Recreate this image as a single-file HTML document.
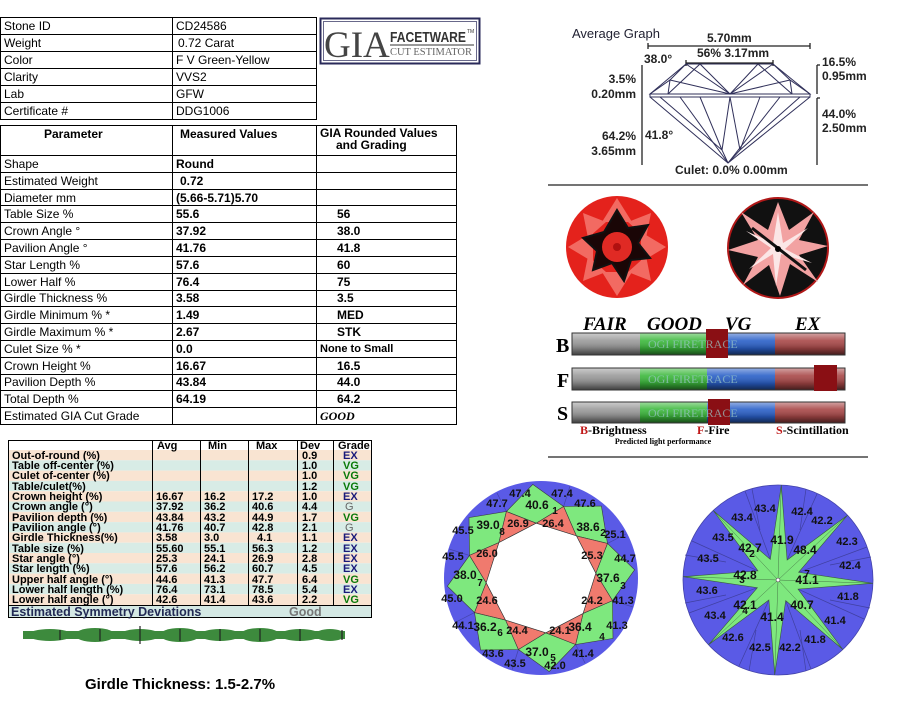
<!DOCTYPE html>
<html><head><meta charset="utf-8"><style>
html,body{margin:0;padding:0;background:#fff;}
svg{display:block;font-family:"Liberation Sans",Arial,sans-serif;}
</style></head><body>
<svg width="911" height="704" viewBox="0 0 911 704" xmlns="http://www.w3.org/2000/svg">
<rect width="911" height="704" fill="#fff"/>

<!-- Top-left info table -->
<g stroke="#000" stroke-width="1" fill="none">
<rect x="0.5" y="17.5" width="316" height="102"/>
<line x1="172.5" y1="17" x2="172.5" y2="119"/>
<line x1="0" y1="34.5" x2="316" y2="34.5"/>
<line x1="0" y1="51.5" x2="316" y2="51.5"/>
<line x1="0" y1="68.5" x2="316" y2="68.5"/>
<line x1="0" y1="85.5" x2="316" y2="85.5"/>
<line x1="0" y1="102.5" x2="316" y2="102.5"/>
</g>
<g font-size="12" fill="#000">
<text x="4" y="30">Stone ID</text><text x="176" y="30">CD24586</text>
<text x="4" y="47">Weight</text><text x="178" y="47">0.72 Carat</text>
<text x="4" y="64">Color</text><text x="176" y="64">F V Green-Yellow</text>
<text x="4" y="81">Clarity</text><text x="176" y="81">VVS2</text>
<text x="4" y="98">Lab</text><text x="176" y="98">GFW</text>
<text x="4" y="115">Certificate #</text><text x="176" y="115">DDG1006</text>
</g>

<!-- Logo -->
<rect x="320.5" y="18.5" width="159" height="45" fill="#fff" stroke="#2a2a5a" stroke-width="2"/>
<rect x="323.5" y="21.5" width="153" height="39" fill="none" stroke="#2a2a5a" stroke-width="0.7"/>
<text x="324" y="57" font-family="Liberation Serif,serif" font-size="37" fill="#444">GIA</text>
<text x="390" y="42" font-size="15" font-weight="bold" fill="#333" textLength="76" lengthAdjust="spacingAndGlyphs">FACETWARE</text>
<text x="467" y="33" font-size="5" fill="#333">TM</text>
<line x1="390" y1="45" x2="474" y2="45" stroke="#333" stroke-width="1"/>
<text x="390" y="55" font-family="Liberation Serif,serif" font-size="10" fill="#666" textLength="82" lengthAdjust="spacingAndGlyphs">CUT ESTIMATOR</text>

<!-- Parameter table -->
<g stroke="#000" stroke-width="1" fill="none">
<rect x="0.5" y="125.5" width="456" height="299"/>
<line x1="0" y1="155.5" x2="456" y2="155.5"/>
<line x1="172.5" y1="125" x2="172.5" y2="424"/>
<line x1="316.5" y1="125" x2="316.5" y2="424"/>
<line x1="0" y1="172.5" x2="456" y2="172.5"/>
<line x1="0" y1="189.5" x2="456" y2="189.5"/>
<line x1="0" y1="205.5" x2="456" y2="205.5"/>
<line x1="0" y1="222.5" x2="456" y2="222.5"/>
<line x1="0" y1="239.5" x2="456" y2="239.5"/>
<line x1="0" y1="256.5" x2="456" y2="256.5"/>
<line x1="0" y1="273.5" x2="456" y2="273.5"/>
<line x1="0" y1="290.5" x2="456" y2="290.5"/>
<line x1="0" y1="306.5" x2="456" y2="306.5"/>
<line x1="0" y1="323.5" x2="456" y2="323.5"/>
<line x1="0" y1="340.5" x2="456" y2="340.5"/>
<line x1="0" y1="357.5" x2="456" y2="357.5"/>
<line x1="0" y1="374.5" x2="456" y2="374.5"/>
<line x1="0" y1="390.5" x2="456" y2="390.5"/>
<line x1="0" y1="407.5" x2="456" y2="407.5"/>
</g>
<g font-size="12" font-weight="bold" fill="#000">
<text x="44" y="138">Parameter</text>
<text x="180" y="138">Measured Values</text>
<text x="320" y="137">GIA Rounded Values</text>
<text x="336" y="149">and Grading</text>
</g>
<g font-size="12" fill="#000">
<text x="4" y="168">Shape</text>
<text x="4" y="185">Estimated Weight</text>
<text x="4" y="202">Diameter  mm</text>
<text x="4" y="218">Table Size  %</text>
<text x="4" y="235">Crown Angle  °</text>
<text x="4" y="252">Pavilion Angle  °</text>
<text x="4" y="269">Star Length  %</text>
<text x="4" y="286">Lower Half  %</text>
<text x="4" y="302">Girdle Thickness  %</text>
<text x="4" y="319">Girdle Minimum  % *</text>
<text x="4" y="336">Girdle Maximum  % *</text>
<text x="4" y="353">Culet Size  % *</text>
<text x="4" y="370">Crown Height  %</text>
<text x="4" y="386">Pavilion Depth  %</text>
<text x="4" y="403">Total Depth  %</text>
<text x="4" y="420">Estimated GIA Cut Grade</text>
</g>
<g font-size="12" font-weight="bold" fill="#000">
<text x="176" y="168">Round</text>
<text x="180" y="185">0.72</text>
<text x="176" y="202">(5.66-5.71)5.70</text>
<text x="176" y="218">55.6</text>
<text x="176" y="235">37.92</text>
<text x="176" y="252">41.76</text>
<text x="176" y="269">57.6</text>
<text x="176" y="286">76.4</text>
<text x="176" y="302">3.58</text>
<text x="176" y="319">1.49</text>
<text x="176" y="336">2.67</text>
<text x="176" y="353">0.0</text>
<text x="176" y="370">16.67</text>
<text x="176" y="386">43.84</text>
<text x="176" y="403">64.19</text>
<text x="337" y="218">56</text>
<text x="337" y="235">38.0</text>
<text x="337" y="252">41.8</text>
<text x="337" y="269">60</text>
<text x="337" y="286">75</text>
<text x="337" y="302">3.5</text>
<text x="337" y="319">MED</text>
<text x="337" y="336">STK</text>
<text x="320" y="352" font-size="11">None to Small</text>
<text x="337" y="370">16.5</text>
<text x="337" y="386">44.0</text>
<text x="337" y="403">64.2</text>
<text x="320" y="420" font-family="Liberation Serif,serif" font-style="italic">GOOD</text>
</g>

<!-- Symmetry table -->
<g>
<rect x="8" y="440" width="364" height="10" fill="#fff"/>
<rect x="8" y="450" width="364" height="10.3" fill="#f9e4d2"/>
<rect x="8" y="460.3" width="364" height="10.3" fill="#d8ece6"/>
<rect x="8" y="470.6" width="364" height="10.3" fill="#f9e4d2"/>
<rect x="8" y="480.9" width="364" height="10.3" fill="#d8ece6"/>
<rect x="8" y="491.2" width="364" height="10.3" fill="#f9e4d2"/>
<rect x="8" y="501.5" width="364" height="10.3" fill="#d8ece6"/>
<rect x="8" y="511.8" width="364" height="10.3" fill="#f9e4d2"/>
<rect x="8" y="522.1" width="364" height="10.3" fill="#d8ece6"/>
<rect x="8" y="532.4" width="364" height="10.3" fill="#f9e4d2"/>
<rect x="8" y="542.7" width="364" height="10.3" fill="#d8ece6"/>
<rect x="8" y="553" width="364" height="10.3" fill="#f9e4d2"/>
<rect x="8" y="563.3" width="364" height="10.3" fill="#d8ece6"/>
<rect x="8" y="573.6" width="364" height="10.3" fill="#f9e4d2"/>
<rect x="8" y="583.9" width="364" height="10.3" fill="#d8ece6"/>
<rect x="8" y="594.2" width="364" height="10.8" fill="#f9e4d2"/>
<rect x="8" y="605" width="364" height="13" fill="#d4e8e4"/>
</g>
<g stroke="#000" stroke-width="1" fill="none">
<rect x="8.5" y="440.5" width="363" height="177"/>
<line x1="152.5" y1="440" x2="152.5" y2="605"/>
<line x1="200.5" y1="440" x2="200.5" y2="605"/>
<line x1="248.5" y1="440" x2="248.5" y2="605"/>
<line x1="297.5" y1="440" x2="297.5" y2="605"/>
<line x1="333.5" y1="440" x2="333.5" y2="605"/>
<line x1="8" y1="605.5" x2="372" y2="605.5"/>
</g>
<g font-size="11" font-weight="bold" fill="#000">
<text x="157" y="449">Avg</text><text x="208" y="449">Min</text><text x="256" y="449">Max</text><text x="300" y="449">Dev</text><text x="338" y="449">Grade</text>
<text x="12" y="459">Out-of-round (%)</text>
<text x="12" y="469">Table off-center (%)</text>
<text x="12" y="479">Culet of-center (%)</text>
<text x="12" y="490">Table/culet(%)</text>
<text x="12" y="500">Crown height (%)</text>
<text x="12" y="510">Crown angle (°)</text>
<text x="12" y="521">Pavilion depth (%)</text>
<text x="12" y="531">Pavilion angle (°)</text>
<text x="12" y="541">Girdle Thickness(%)</text>
<text x="12" y="552">Table size  (%)</text>
<text x="12" y="562">Star angle (°)</text>
<text x="12" y="572">Star length (%)</text>
<text x="12" y="583">Upper half angle (°)</text>
<text x="12" y="593">Lower half length (%)</text>
<text x="12" y="603">Lower half angle (°)</text>
</g>
<g font-size="11" font-weight="bold" fill="#000">
<text x="156" y="500">16.67</text><text x="204" y="500">16.2</text><text x="252" y="500">17.2</text>
<text x="156" y="510">37.92</text><text x="204" y="510">36.2</text><text x="252" y="510">40.6</text>
<text x="156" y="521">43.84</text><text x="204" y="521">43.2</text><text x="252" y="521">44.9</text>
<text x="156" y="531">41.76</text><text x="204" y="531">40.7</text><text x="252" y="531">42.8</text>
<text x="156" y="541">3.58</text><text x="204" y="541">3.0</text><text x="257" y="541">4.1</text>
<text x="156" y="552">55.60</text><text x="204" y="552">55.1</text><text x="252" y="552">56.3</text>
<text x="156" y="562">25.3</text><text x="204" y="562">24.1</text><text x="252" y="562">26.9</text>
<text x="156" y="572">57.6</text><text x="204" y="572">56.2</text><text x="252" y="572">60.7</text>
<text x="156" y="583">44.6</text><text x="204" y="583">41.3</text><text x="252" y="583">47.7</text>
<text x="156" y="593">76.4</text><text x="204" y="593">73.1</text><text x="252" y="593">78.5</text>
<text x="156" y="603">42.6</text><text x="204" y="603">41.4</text><text x="252" y="603">43.6</text>
<text x="302" y="459">0.9</text><text x="302" y="469">1.0</text><text x="302" y="479">1.0</text><text x="302" y="490">1.2</text>
<text x="302" y="500">1.0</text><text x="302" y="510">4.4</text><text x="302" y="521">1.7</text><text x="302" y="531">2.1</text>
<text x="302" y="541">1.1</text><text x="302" y="552">1.2</text><text x="302" y="562">2.8</text><text x="302" y="572">4.5</text>
<text x="302" y="583">6.4</text><text x="302" y="593">5.4</text><text x="302" y="603">2.2</text>
</g>
<g font-size="11" font-weight="bold">
<text x="343" y="459" fill="#1a1a7a">EX</text>
<text x="343" y="469" fill="#0a7a0a">VG</text>
<text x="343" y="479" fill="#0a7a0a">VG</text>
<text x="343" y="490" fill="#0a7a0a">VG</text>
<text x="343" y="500" fill="#1a1a7a">EX</text>
<text x="345" y="510" fill="#666" font-weight="normal">G</text>
<text x="343" y="521" fill="#0a7a0a">VG</text>
<text x="345" y="531" fill="#666" font-weight="normal">G</text>
<text x="343" y="541" fill="#1a1a7a">EX</text>
<text x="343" y="552" fill="#1a1a7a">EX</text>
<text x="343" y="562" fill="#1a1a7a">EX</text>
<text x="343" y="572" fill="#1a1a7a">EX</text>
<text x="343" y="583" fill="#0a7a0a">VG</text>
<text x="343" y="593" fill="#1a1a7a">EX</text>
<text x="343" y="603" fill="#0a7a0a">VG</text>
</g>
<text x="11" y="616" font-size="12.5" font-weight="bold" fill="#222a55">Estimated Symmetry Deviations</text>
<text x="289" y="616" font-size="12.5" font-weight="bold" fill="#777">Good</text>

<!-- green wave strip -->
<g fill="#3d8a3d">
<rect x="23" y="631" width="322" height="8"/>
<ellipse cx="50" cy="635" rx="22" ry="6"/><ellipse cx="95" cy="635" rx="20" ry="7"/>
<ellipse cx="140" cy="635" rx="20" ry="6"/><ellipse cx="180" cy="635" rx="20" ry="7"/>
<ellipse cx="220" cy="635" rx="20" ry="6"/><ellipse cx="260" cy="635" rx="20" ry="7"/>
<ellipse cx="300" cy="635" rx="20" ry="6"/><ellipse cx="330" cy="635" rx="15" ry="6"/>
</g>
<g stroke="#222" stroke-width="1.2">
<line x1="60" y1="630" x2="60" y2="640"/><line x1="100" y1="629" x2="100" y2="641"/>
<line x1="140" y1="626" x2="140" y2="644"/><line x1="180" y1="629" x2="180" y2="641"/>
<line x1="220" y1="629" x2="220" y2="641"/><line x1="260" y1="629" x2="260" y2="641"/>
<line x1="300" y1="629" x2="300" y2="641"/><line x1="342" y1="630" x2="342" y2="640"/>
</g>
<text x="85" y="689" font-size="15" font-weight="bold" fill="#000">Girdle Thickness: 1.5-2.7%</text>

<!-- Average graph -->
<text x="572" y="38" font-size="13" fill="#223">Average Graph</text>
<g stroke="#222" stroke-width="1.3" fill="none">
<line x1="648" y1="46" x2="810" y2="46"/><line x1="648" y1="43" x2="648" y2="49"/><line x1="810" y1="43" x2="810" y2="49"/>
<line x1="686" y1="63" x2="773" y2="63"/><line x1="686" y1="60" x2="686" y2="66"/><line x1="773" y1="60" x2="773" y2="66"/>
<line x1="642" y1="65" x2="642" y2="165"/>
<line x1="817" y1="65" x2="817" y2="94"/><line x1="817" y1="65" x2="820" y2="65"/>
<line x1="817" y1="98" x2="817" y2="165"/><line x1="817" y1="98" x2="820" y2="98"/>
</g>
<g stroke="#30305a" stroke-width="1" fill="none">
<polygon points="650,94 686,64 773,64 810,94"/>
<rect x="650" y="94" width="160" height="3"/>
<polyline points="650,94 670,80 668,94"/>
<polyline points="810,94 790,80 792,94"/>
<polyline points="670,80 686,64"/><polyline points="790,80 773,64"/>
<polyline points="668,94 700,64 730,94 758,64 792,94"/>
<polyline points="686,64 730,94 773,64"/>
<polyline points="670,80 730,94 790,80"/>
<polyline points="650,97 728,163 810,97"/>
<polyline points="660,97 722,150 728,163"/>
<polyline points="800,97 740,150 728,163"/>
<polyline points="700,97 722,150"/><polyline points="760,97 740,150"/>
<polyline points="730,97 722,150"/><polyline points="730,97 740,150"/>
<polyline points="680,97 728,163"/><polyline points="780,97 728,163"/>
</g>
<g font-size="12" font-weight="bold" fill="#222">
<text x="707" y="42">5.70mm</text>
<text x="697" y="57">56% 3.17mm</text>
<text x="644" y="63">38.0°</text>
<text x="636" y="83" text-anchor="end">3.5%</text>
<text x="636" y="98" text-anchor="end">0.20mm</text>
<text x="636" y="140" text-anchor="end">64.2%</text>
<text x="636" y="155" text-anchor="end">3.65mm</text>
<text x="645" y="139">41.8°</text>
<text x="822" y="66">16.5%</text>
<text x="822" y="80">0.95mm</text>
<text x="822" y="118">44.0%</text>
<text x="822" y="132">2.50mm</text>
<text x="675" y="174">Culet: 0.0% 0.00mm</text>
</g>
<line x1="548" y1="185" x2="868" y2="185" stroke="#222" stroke-width="1.3"/>

<!-- Red diamond 1 -->
<circle cx="617" cy="247" r="51" fill="#e4221c"/>
<g fill="#f26a62">
<polygon points="617,198 632,222 602,222"/><polygon points="666,247 641,262 641,232"/>
<polygon points="617,296 602,272 632,272"/><polygon points="568,247 593,232 593,262"/>
<polygon points="651,213 646,238 628,222"/><polygon points="583,281 588,256 606,272"/>
<polygon points="651,281 628,272 646,256"/><polygon points="583,213 606,222 588,238"/>
</g>
<polygon points="617,210 628,228 648,225 638,243 650,258 631,260 624,281 612,263 593,270 597,251 583,238 604,232" fill="#1a0606" stroke="#111" stroke-width="2"/>
<circle cx="617" cy="247" r="15" fill="#e02a24"/>
<circle cx="617" cy="247" r="4" fill="#b01010"/>

<!-- Red diamond 2 -->
<circle cx="778" cy="248" r="50" fill="#111" stroke="#b01818" stroke-width="2"/>
<polygon points="778,202 789,230 814,212 799,240 828,246 799,255 818,282 790,264 780,296 769,265 743,285 758,257 728,250 758,240 741,212 768,230" fill="#f2a2a2"/>
<polygon points="778,212 783,243 808,228 785,249 812,263 781,254 776,286 773,254 749,269 771,248 746,231 773,243" fill="#fbe6e6"/>
<line x1="752" y1="228" x2="806" y2="270" stroke="#111" stroke-width="3"/>
<circle cx="778" cy="249" r="3" fill="#000"/>

<!-- Light performance bars -->
<g font-family="Liberation Serif,serif" font-weight="bold" font-style="italic" font-size="19" fill="#000">
<text x="583" y="330">FAIR</text><text x="647" y="330">GOOD</text><text x="725" y="330">VG</text><text x="795" y="330">EX</text>
</g>
<g font-family="Liberation Serif,serif" font-weight="bold" font-size="20" fill="#000">
<text x="556" y="352">B</text><text x="557" y="387">F</text><text x="557" y="420">S</text>
</g>
<defs>
<linearGradient id="sh" x1="0" y1="0" x2="0" y2="1">
<stop offset="0" stop-color="#fff" stop-opacity="0.5"/><stop offset="0.35" stop-color="#fff" stop-opacity="0.1"/><stop offset="0.7" stop-color="#000" stop-opacity="0.2"/><stop offset="1" stop-color="#000" stop-opacity="0.6"/>
</linearGradient>
</defs>
<g>
<rect x="572" y="333" width="68" height="22" fill="#9a9a9a"/><rect x="640" y="333" width="67" height="22" fill="#3cb83c"/><rect x="707" y="333" width="68" height="22" fill="#2a60c8"/><rect x="775" y="333" width="70" height="22" fill="#a84848"/>
<rect x="572" y="333" width="273" height="22" fill="url(#sh)" stroke="#333" stroke-width="1"/>
<rect x="706" y="329" width="22" height="29" fill="#8a0f14"/>
<rect x="572" y="368" width="68" height="22" fill="#9a9a9a"/><rect x="640" y="368" width="67" height="22" fill="#3cb83c"/><rect x="707" y="368" width="68" height="22" fill="#2a60c8"/><rect x="775" y="368" width="70" height="22" fill="#a84848"/>
<rect x="572" y="368" width="273" height="22" fill="url(#sh)" stroke="#333" stroke-width="1"/>
<rect x="814" y="365" width="23" height="26" fill="#8a0f14"/>
<rect x="572" y="402" width="68" height="21" fill="#9a9a9a"/><rect x="640" y="402" width="67" height="21" fill="#3cb83c"/><rect x="707" y="402" width="68" height="21" fill="#2a60c8"/><rect x="775" y="402" width="70" height="21" fill="#a84848"/>
<rect x="572" y="402" width="273" height="21" fill="url(#sh)" stroke="#333" stroke-width="1"/>
<rect x="708" y="399" width="22" height="26" fill="#8a0f14"/>
</g>
<g font-family="Liberation Serif,serif" font-size="12" fill="#9ac8c8" opacity="0.7">
<text x="648" y="348">OGI FIRETRACE</text><text x="648" y="383">OGI FIRETRACE</text><text x="648" y="417">OGI FIRETRACE</text>
</g>
<g font-family="Liberation Serif,serif" font-weight="bold" font-size="12" fill="#000">
<text x="580" y="434"><tspan fill="#c01818">B</tspan>-Brightness</text>
<text x="697" y="434"><tspan fill="#c01818">F</tspan>-Fire</text>
<text x="776" y="434"><tspan fill="#c01818">S</tspan>-Scintillation</text>
<text x="663" y="444" font-size="8" text-anchor="middle">Predicted light performance</text>
</g>
<line x1="548" y1="457" x2="868" y2="457" stroke="#222" stroke-width="1.3"/>

<!-- Crown diagram -->
<circle cx="541" cy="578" r="97" fill="#5a5ae6"/>
<g stroke="#4444aa" stroke-width="0.7">
<line x1="563.6" y1="506.5" x2="570" y2="486"/><line x1="607.5" y1="543.4" x2="626" y2="534"/>
<line x1="612.5" y1="600.6" x2="633" y2="607"/><line x1="575.6" y1="644.5" x2="585" y2="663"/>
<line x1="518.4" y1="649.5" x2="512" y2="670"/><line x1="474.5" y1="612.6" x2="456" y2="622"/>
<line x1="469.5" y1="555.4" x2="449" y2="549"/><line x1="506.4" y1="511.5" x2="497" y2="493"/>
</g>
<g fill="#7ee87e" stroke="#3a3a3a" stroke-width="0.6">
<polygon points="536.2,523.2 563.6,506.5 532.8,484.4 506.4,511.5"/>
<polygon points="576.4,535.9 607.5,543.4 601.4,506.0 563.6,506.5"/>
<polygon points="595.8,573.2 612.5,600.6 634.6,569.8 607.5,543.4"/>
<polygon points="583.1,613.4 575.6,644.5 613.0,638.4 612.5,600.6"/>
<polygon points="545.8,632.8 518.4,649.5 549.2,671.6 575.6,644.5"/>
<polygon points="505.6,620.1 474.5,612.6 480.6,650.0 518.4,649.5"/>
<polygon points="486.2,582.8 469.5,555.4 447.4,586.2 474.5,612.6"/>
<polygon points="498.9,542.6 506.4,511.5 469.0,517.6 469.5,555.4"/>
</g>
<g fill="#f07a6e" stroke="#3a3a3a" stroke-width="0.6">
<polygon points="536.2,523.2 563.6,506.5 576.4,535.9"/>
<polygon points="576.4,535.9 607.5,543.4 595.8,573.2"/>
<polygon points="595.8,573.2 612.5,600.6 583.1,613.4"/>
<polygon points="583.1,613.4 575.6,644.5 545.8,632.8"/>
<polygon points="545.8,632.8 518.4,649.5 505.6,620.1"/>
<polygon points="505.6,620.1 474.5,612.6 486.2,582.8"/>
<polygon points="486.2,582.8 469.5,555.4 498.9,542.6"/>
<polygon points="498.9,542.6 506.4,511.5 536.2,523.2"/>
</g>
<polygon points="536.2,523.2 576.4,535.9 595.8,573.2 583.1,613.4 545.8,632.8 505.6,620.1 486.2,582.8 498.9,542.6" fill="#fff" stroke="#333" stroke-width="0.6"/>
<g font-size="11" font-weight="bold" fill="#111" text-anchor="middle">
<text x="520" y="497">47.4</text><text x="562" y="497">47.4</text><text x="497" y="507">47.7</text>
<text x="537" y="509" font-size="12">40.6</text><text x="555" y="514" font-size="10">1</text>
<text x="585" y="507">47.6</text>
<text x="488" y="529" font-size="12">39.0</text><text x="502" y="535" font-size="10">8</text>
<text x="518" y="527">26.9</text><text x="553" y="527">26.4</text>
<text x="588" y="531" font-size="12">38.6</text><text x="603" y="536" font-size="10">2</text>
<text x="615" y="538">25.1</text>
<text x="463" y="534">45.5</text><text x="453" y="560">45.5</text>
<text x="487" y="557">26.0</text><text x="592" y="559">25.3</text><text x="625" y="562">44.7</text>
<text x="465" y="579" font-size="12">38.0</text><text x="480" y="586" font-size="10">7</text>
<text x="608" y="582" font-size="12">37.6</text><text x="623" y="589" font-size="10">3</text>
<text x="452" y="602">45.0</text><text x="487" y="604">24.6</text><text x="592" y="604">24.2</text><text x="623" y="604">41.3</text>
<text x="463" y="629">44.1</text>
<text x="485" y="631" font-size="12">36.2</text><text x="500" y="636" font-size="10">6</text>
<text x="517" y="634">24.4</text><text x="560" y="634">24.1</text>
<text x="580" y="631" font-size="12">36.4</text><text x="602" y="640" font-size="10">4</text>
<text x="617" y="629">41.3</text>
<text x="493" y="657">43.6</text>
<text x="537" y="656" font-size="12">37.0</text><text x="553" y="661" font-size="10">5</text>
<text x="583" y="657">41.4</text><text x="515" y="667">43.5</text><text x="555" y="669">42.0</text>
</g>

<!-- Pavilion diagram -->
<circle cx="778" cy="580" r="95" fill="#5a5ae6" stroke="#4444aa" stroke-width="0.8"/>
<g stroke="#4040a0" stroke-width="0.7">
<line x1="787.1" y1="560.0" x2="817" y2="494"/><line x1="798.6" y1="572.3" x2="867" y2="547"/>
<line x1="798.0" y1="589.1" x2="864" y2="619"/><line x1="785.7" y1="600.6" x2="811" y2="669"/>
<line x1="768.9" y1="600.0" x2="739" y2="666"/><line x1="757.4" y1="587.7" x2="689" y2="613"/>
<line x1="758.0" y1="570.9" x2="692" y2="541"/><line x1="770.3" y1="559.4" x2="745" y2="491"/>
<line x1="760" y1="530" x2="752" y2="489"/><line x1="800" y1="530" x2="806" y2="489"/>
<line x1="830" y1="565" x2="871" y2="557"/><line x1="830" y1="600" x2="870" y2="608"/>
<line x1="756" y1="630" x2="749" y2="671"/><line x1="800" y1="630" x2="806" y2="671"/>
<line x1="726" y1="595" x2="685" y2="603"/><line x1="726" y1="562" x2="685" y2="555"/>
</g>
<polygon points="781.3,485.1 787.1,560.0 847.5,515.2 798.6,572.3 872.9,583.3 798.0,589.1 842.8,649.5 785.7,600.6 774.7,674.9 768.9,600.0 708.5,644.8 757.4,587.7 683.1,576.7 758.0,570.9 713.2,510.5 770.3,559.4" fill="#7ee87e" stroke="#3a5a3a" stroke-width="0.6"/>
<g stroke="#3a5a3a" stroke-width="0.4">
<line x1="778" y1="580" x2="781.3" y2="485.1"/><line x1="778" y1="580" x2="847.5" y2="515.2"/>
<line x1="778" y1="580" x2="872.9" y2="583.3"/><line x1="778" y1="580" x2="842.8" y2="649.5"/>
<line x1="778" y1="580" x2="774.7" y2="674.9"/><line x1="778" y1="580" x2="708.5" y2="644.8"/>
<line x1="778" y1="580" x2="683.1" y2="576.7"/><line x1="778" y1="580" x2="713.2" y2="510.5"/>
</g>
<circle cx="778" cy="580" r="2" fill="#fff" stroke="#333" stroke-width="0.5"/>
<g font-size="11" font-weight="bold" fill="#111" text-anchor="middle">
<text x="765" y="512">43.4</text><text x="802" y="515">42.4</text><text x="742" y="521">43.4</text><text x="822" y="524">42.2</text>
<text x="723" y="541">43.5</text><text x="782" y="544" font-size="12">41.9</text><text x="847" y="545">42.3</text>
<text x="750" y="552" font-size="12">42.7</text><text x="752" y="557" font-size="10">2</text>
<text x="805" y="554" font-size="12">48.4</text>
<text x="708" y="562">43.5</text><text x="850" y="569">42.4</text>
<text x="745" y="579" font-size="12">42.8</text><text x="742" y="583" font-size="10">3</text>
<text x="807" y="584" font-size="12">41.1</text><text x="807" y="577" font-size="10">7</text>
<text x="707" y="594">43.6</text><text x="848" y="600">41.8</text>
<text x="745" y="609" font-size="12">42.1</text><text x="745" y="614" font-size="10">4</text>
<text x="802" y="609" font-size="12">40.7</text>
<text x="772" y="621" font-size="12">41.4</text>
<text x="715" y="619">43.4</text><text x="835" y="624">41.4</text>
<text x="733" y="641">42.6</text><text x="815" y="643">41.8</text>
<text x="760" y="651">42.5</text><text x="790" y="651">42.2</text>
</g>
</svg>
</body></html>
